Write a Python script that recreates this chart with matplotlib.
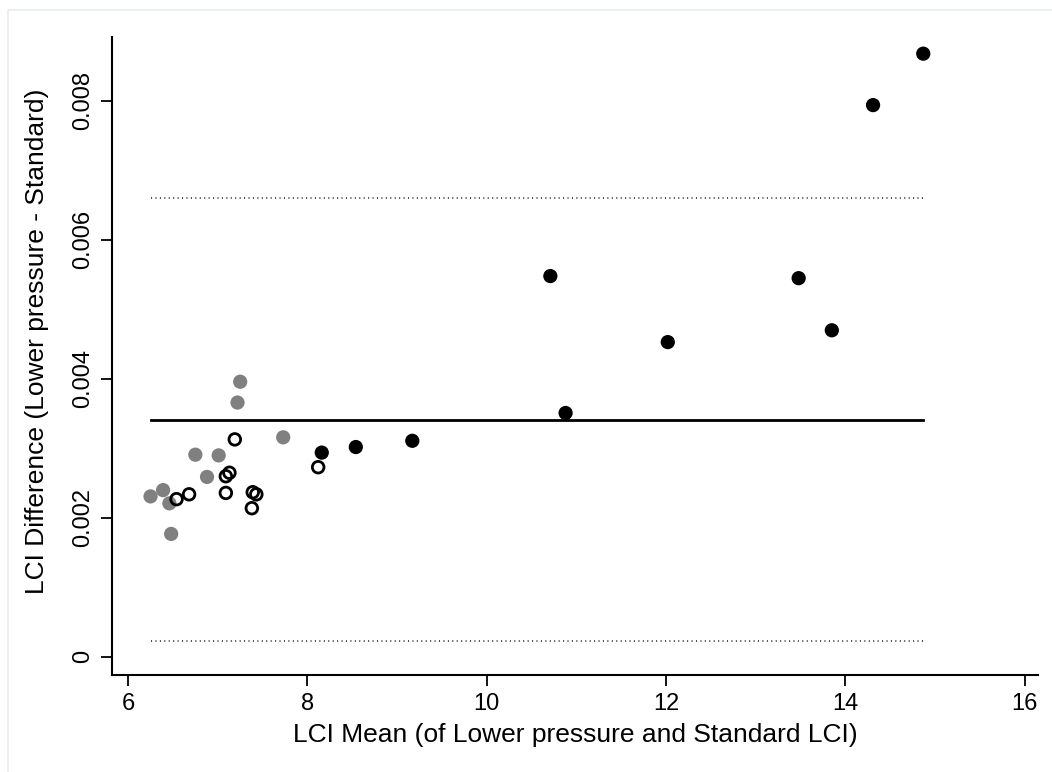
import matplotlib
matplotlib.use("Agg")
import matplotlib.pyplot as plt
from matplotlib.patches import Rectangle

# Data
grey_x = [6.25, 6.39, 6.46, 6.48, 6.75, 6.88, 7.01, 7.22, 7.25, 7.73]
grey_y = [0.00231, 0.00240, 0.00221, 0.00177, 0.00291, 0.00259, 0.00290, 0.00366, 0.00396, 0.00316]

open_x = [6.54, 6.68, 7.09, 7.09, 7.13, 7.19, 7.38, 7.39, 7.43, 8.12]
open_y = [0.00227, 0.00234, 0.00236, 0.00260, 0.00265, 0.00313, 0.00214, 0.00237, 0.00234, 0.00273]

black_x = [8.16, 8.54, 9.17, 10.71, 10.88, 12.02, 13.48, 13.85, 14.31, 14.87]
black_y = [0.00294, 0.00302, 0.00311, 0.00548, 0.00351, 0.00453, 0.00545, 0.00470, 0.00794, 0.00868]

mean_diff = 0.00341
upper_loa = 0.00660
lower_loa = 0.00023

x_ticks = [6, 8, 10, 12, 14, 16]
y_ticks = [0, 0.002, 0.004, 0.006, 0.008]
y_tick_labels = ["0", "0.002", "0.004", "0.006", "0.008"]

plt.rcParams['font.family'] = ['Liberation Sans', 'DejaVu Sans']

fig = plt.figure(figsize=(10.52, 7.72), dpi=100)
fig.patches.append(Rectangle((8/1052, -0.01), 1.05, 1 - 10/772 + 0.01, transform=fig.transFigure,
                             fill=False, edgecolor='#e6edf0', linewidth=1.2))
ax = fig.add_axes([112/1052, 97/772, 926/1052, 638/772])

all_x = grey_x + open_x + black_x
xmin, xmax = min(all_x), max(all_x)

ax.plot([xmin, xmax], [upper_loa, upper_loa], color='#1a1a1a', lw=1.1, ls=(0, (0.7, 2.2)))
ax.plot([xmin, xmax], [lower_loa, lower_loa], color='#1a1a1a', lw=1.1, ls=(0, (0.7, 2.2)))
ax.plot([xmin, xmax], [mean_diff, mean_diff], color='black', lw=2.0)

ax.scatter(grey_x, grey_y, s=105, color='#808080', edgecolors='none', zorder=3)
ax.scatter(open_x, open_y, s=70, facecolors='none', edgecolors='black', linewidths=2.0, zorder=4)
ax.scatter(black_x, black_y, s=105, color='black', edgecolors='none', zorder=3)

ax.set_xlim(5.82, 16.15)
ax.set_ylim(-0.00026, 0.00892)
ax.set_xticks(x_ticks)
ax.set_xticklabels([str(t) for t in x_ticks])
ax.set_yticks(y_ticks)
ax.set_yticklabels(y_tick_labels, rotation=90, va='center')

for s in ['top', 'right']:
    ax.spines[s].set_visible(False)
for s in ['left', 'bottom']:
    ax.spines[s].set_linewidth(1.5)

ax.tick_params(axis='both', which='major', length=8, width=1.3, labelsize=17, pad=5)
ax.set_xlabel("LCI Mean (of Lower pressure and Standard LCI)", fontsize=19, labelpad=6)
ax.set_ylabel("LCI Difference (Lower pressure - Standard)", fontsize=19)
ax.yaxis.set_label_coords(-0.068, 0.5235)

fig.savefig("out.png", dpi=100)
